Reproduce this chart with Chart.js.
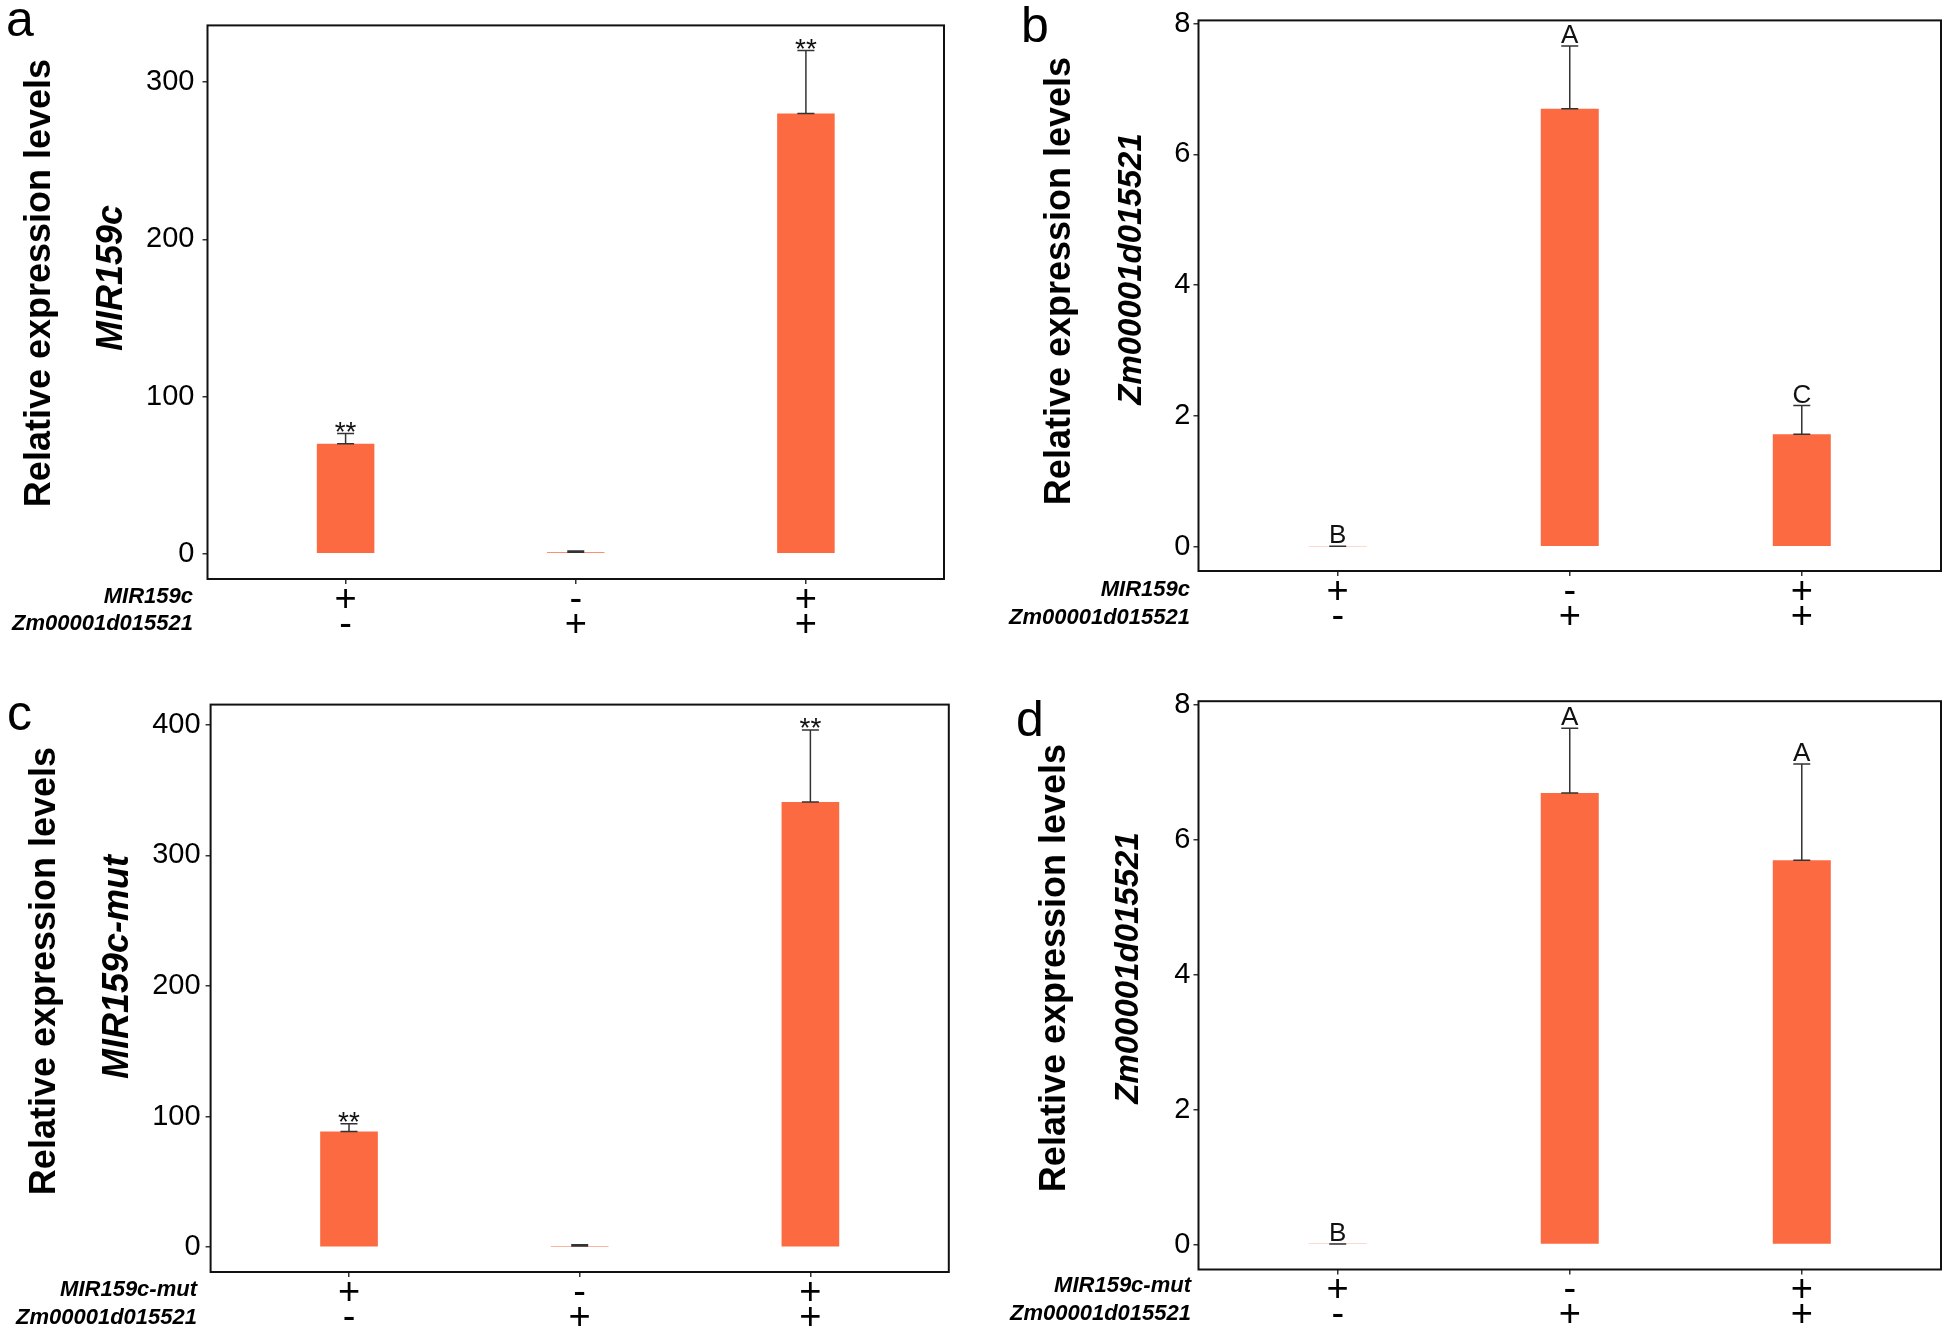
<!DOCTYPE html>
<html>
<head>
<meta charset="utf-8">
<script src="https://cdn.jsdelivr.net/npm/chart.js@4.4.1/dist/chart.umd.min.js"></script>
<style>
  html, body { margin: 0; padding: 0; background: #fff; }
  #wrap { position: relative; width: 1946px; height: 1336px; }
  canvas { position: absolute; }
</style>
</head>
<body>
<div id="wrap">
  <canvas id="pa" width="973" height="668" style="left:0;top:0"></canvas>
  <canvas id="pb" width="973" height="668" style="left:973px;top:0"></canvas>
  <canvas id="pc" width="973" height="668" style="left:0;top:668px"></canvas>
  <canvas id="pd" width="973" height="668" style="left:973px;top:668px"></canvas>
</div>
<script>
// groups (x positions) and the +/- rows under each bar
const groups = [1, 2, 3];
const mirRow = ["+", "-", "+"];
const zmRow = ["-", "+", "+"];

// panel a: MIR159c
const aMeans = [70, 1, 280];
const aErrors = [6.5, 0.8, 40];
const aMarks = ["**", "", "**"];
const aTicks = [0, 100, 200, 300];

// panel b: Zm00001d015521 with MIR159c
const bMeans = [0.01, 6.70, 1.72];
const bErrors = [0, 0.96, 0.44];
const bMarks = ["B", "A", "C"];
const bTicks = [0, 2, 4, 6, 8];

// panel c: MIR159c-mut
const cMeans = [88.5, 1, 341];
const cErrors = [6, 0.8, 55];
const cMarks = ["**", "", "**"];
const cTicks = [0, 100, 200, 300, 400];

// panel d: Zm00001d015521 with MIR159c-mut
const dMeans = [0.01, 6.70, 5.70];
const dErrors = [0, 0.96, 1.43];
const dMarks = ["B", "A", "A"];
const dTicks = [0, 2, 4, 6, 8];

const FONT = '"Liberation Sans", Arial, Helvetica, sans-serif';
const BAR = "#FC6A42";

// error bars, letters, frame and all the side texts
const panelDeco = {
  id: "panelDeco",
  afterDatasetsDraw(chart, args, o) {
    const ctx = chart.ctx;
    const xs = chart.scales.x, ys = chart.scales.y, a = chart.chartArea;
    ctx.save();

    o.means.forEach((m, i) => {
      const x = xs.getPixelForValue(groups[i]);
      const y0 = ys.getPixelForValue(m);
      const y1 = ys.getPixelForValue(m + o.errors[i]);
      ctx.strokeStyle = "#333";
      ctx.lineWidth = 1.5;
      ctx.beginPath();
      ctx.moveTo(x, y0); ctx.lineTo(x, y1);
      ctx.moveTo(x - 8.5, y0); ctx.lineTo(x + 8.5, y0);
      ctx.moveTo(x - 8.5, y1); ctx.lineTo(x + 8.5, y1);
      ctx.stroke();

      const mk = o.marks[i];
      if (mk) {
        ctx.fillStyle = "#111";
        ctx.textAlign = "center";
        ctx.textBaseline = "alphabetic";
        if (mk === "**") {
          ctx.font = "28px " + FONT;
          ctx.fillText(mk, x, y1 + 7);
        } else {
          ctx.font = "26px " + FONT;
          ctx.fillText(mk, x, y1 - 3);
        }
      }
    });

    // frame
    ctx.strokeStyle = "#111";
    ctx.lineWidth = 2;
    ctx.strokeRect(a.left, a.top, a.right - a.left, a.bottom - a.top);

    // y titles
    ctx.fillStyle = "#000";
    ctx.textAlign = "center";
    ctx.textBaseline = "alphabetic";
    const rot = (txt, font, bx, cy) => {
      ctx.save();
      ctx.translate(bx, cy);
      ctx.rotate(-Math.PI / 2);
      ctx.font = font;
      ctx.fillText(txt, 0, 0);
      ctx.restore();
    };
    rot("Relative expression levels", "bold 36px " + FONT, o.t1[0], o.t1[1]);
    rot(o.gene, "italic bold " + o.geneSize + "px " + FONT, o.t2[0], o.t2[1]);

    // row names under the axis
    ctx.textAlign = "right";
    ctx.font = "italic bold 22px " + FONT;
    ctx.fillText(o.row1, o.rows[0], o.rows[1]);
    ctx.fillText("Zm00001d015521", o.rows[0], o.rows[2]);

    // panel letter
    ctx.textAlign = "left";
    ctx.font = "50px " + FONT;
    ctx.fillText(o.letter, o.lp[0], o.lp[1]);

    ctx.restore();
  }
};

function makePanel(id, cfg) {
  const W = 973, H = 668;
  const axisGrid = { drawOnChartArea: false, drawTicks: true, tickLength: 5, color: "#333", lineWidth: 1.5, offset: false };
  new Chart(document.getElementById(id), {
    type: "bar",
    data: {
      datasets: [{
        data: groups.map((g, i) => ({ x: g, y: cfg.means[i] })),
        backgroundColor: BAR,
        borderWidth: 0,
        barPercentage: 0.25,
        categoryPercentage: 1
      }]
    },
    plugins: [panelDeco],
    options: {
      responsive: false,
      animation: false,
      devicePixelRatio: 1,
      layout: { padding: { top: cfg.frame.T, right: W - cfg.frame.R, left: 0, bottom: 0 } },
      plugins: {
        legend: { display: false },
        tooltip: { enabled: false },
        panelDeco: cfg
      },
      scales: {
        x: {
          type: "linear",
          offset: false,
          min: 0.4,
          max: 3.6,
          afterBuildTicks: s => { s.ticks = groups.map(v => ({ value: v })); },
          afterFit: s => { s.height = H - cfg.frame.B; },
          grid: axisGrid,
          border: { display: false },
          ticks: {
            autoSkip: false,
            maxRotation: 0,
            padding: 4,
            color: "#000",
            font: { family: FONT, size: 38, lineHeight: 25 / 38 },
            callback: (v, i) => [mirRow[i], zmRow[i]]
          }
        },
        y: {
          min: cfg.range[0],
          max: cfg.range[1],
          afterBuildTicks: s => { s.ticks = cfg.ticks.map(v => ({ value: v })); },
          afterFit: s => { s.width = cfg.frame.L; },
          grid: axisGrid,
          border: { display: false },
          ticks: {
            padding: cfg.tickPad,
            color: "#000",
            font: { family: FONT, size: 29 }
          }
        }
      }
    }
  });
}

makePanel("pa", {
  means: aMeans, errors: aErrors, marks: aMarks, ticks: aTicks, range: [-16, 336],
  frame: { L: 207.5, R: 944, T: 8.5, B: 579 }, tickPad: 8,
  gene: "MIR159c", geneSize: 36, row1: "MIR159c",
  t1: [50, 283], t2: [122, 278], rows: [193, 603, 630], letter: "a", lp: [6, 36]
});
makePanel("pb", {
  means: bMeans, errors: bErrors, marks: bMarks, ticks: bTicks, range: [-0.37, 8.05],
  frame: { L: 225.5, R: 968, T: 5, B: 571 }, tickPad: 3,
  gene: "Zm00001d015521", geneSize: 33, row1: "MIR159c",
  t1: [97, 281], t2: [168, 269], rows: [217, 596, 624], letter: "b", lp: [48, 42]
});
makePanel("pc", {
  means: cMeans, errors: cErrors, marks: cMarks, ticks: cTicks, range: [-19, 415.5],
  frame: { L: 210.6, R: 948.8, T: 36.6, B: 604 }, tickPad: 5,
  gene: "MIR159c-mut", geneSize: 36, row1: "MIR159c-mut",
  t1: [55, 303], t2: [128, 299], rows: [197, 628, 656], letter: "c", lp: [7, 62]
});
makePanel("pd", {
  means: dMeans, errors: dErrors, marks: dMarks, ticks: dTicks, range: [-0.37, 8.06],
  frame: { L: 225.5, R: 968, T: 33.2, B: 601.5 }, tickPad: 3,
  gene: "Zm00001d015521", geneSize: 33, row1: "MIR159c-mut",
  t1: [92, 300], t2: [165, 300], rows: [218, 624, 652], letter: "d", lp: [43, 68]
});
</script>
</body>
</html>
